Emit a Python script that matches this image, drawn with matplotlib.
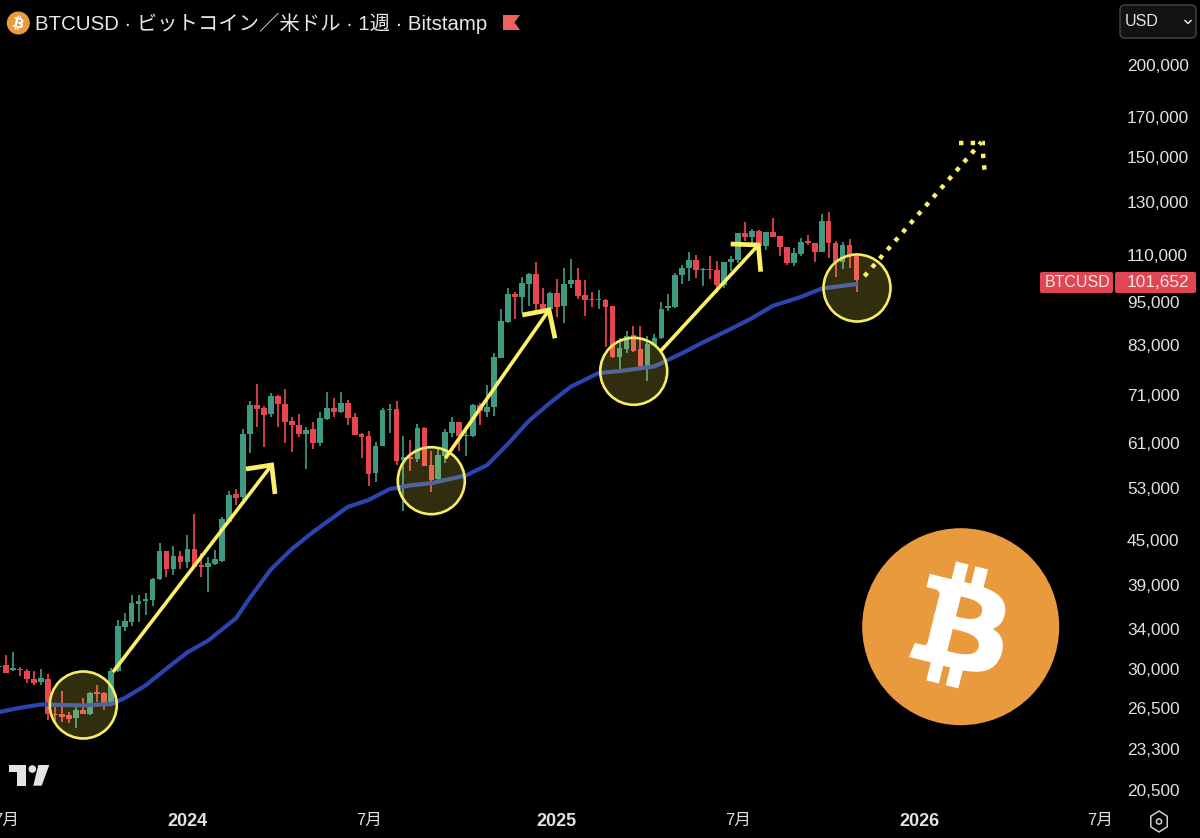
import re
import numpy as np
import pandas as pd
import matplotlib
matplotlib.use("Agg")
import matplotlib.pyplot as plt
import matplotlib.dates as mdates
from matplotlib.patches import Circle, PathPatch, Polygon, FancyBboxPatch
from matplotlib.path import Path

# Weekly BTCUSD candles in thousands of USD, first bar is the week of 2023-06-26
opens = [30.22, 30.41, 29.94, 30.03, 29.85, 29.1, 28.82, 29.1, 26.0, 26.0,
         25.92, 25.68, 26.4, 26.0, 27.9, 27.8, 26.95, 29.8, 34.23, 34.78,
         36.74, 37.08, 37.2, 39.82, 43.46, 41.03, 42.77, 41.94, 43.74, 41.55,
         41.29, 41.68, 42.07, 47.6, 51.97, 51.48, 62.7, 68.75, 68.13, 66.86,
         70.7, 68.95, 65.4, 64.57, 62.7, 63.7, 61.0, 65.8, 68.13, 67.27,
         69.16, 66.22, 62.7, 62.4, 55.47, 60.45, 67.7, 67.9, 57.8, 58.34,
         58.0, 63.9, 56.9, 54.47, 58.55, 62.9, 65.2, 62.4, 62.4, 68.75,
         67.27, 68.34, 79.7, 89.24, 97.45, 96.5, 100.5, 103.8, 94.4, 93.0,
         97.8, 93.87, 100.5, 101.8, 97.13, 95.9, 95.6, 95.6, 93.87, 79.95,
         81.96, 85.63, 81.96, 77.66, 83.0, 84.83, 93.28, 93.57, 103.45, 105.8,
         108.4, 105.1, 105.44, 105.1, 100.17, 107.7, 108.4, 118.0, 116.6, 118.73,
         113.4, 118.4, 116.9, 113.0, 107.4, 110.5, 115.15, 114.43, 111.2, 122.5,
         114.43, 107.7, 113.7, 109.8]
highs = [30.41, 31.3, 31.6, 30.22, 30.03, 29.85, 30.03, 29.53, 26.65, 28.0,
         26.23, 26.73, 27.37, 27.9, 28.48, 27.9, 30.13, 35.0, 35.76, 37.8,
         37.8, 38.04, 39.95, 44.58, 43.46, 44.15, 43.46, 45.7, 48.8, 43.19,
         42.6, 43.6, 48.35, 52.44, 52.77, 63.7, 69.6, 73.45, 68.55, 71.42,
         70.97, 72.33, 66.22, 66.86, 64.1, 65.2, 67.27, 71.65, 70.25, 71.65,
         69.8, 67.06, 62.9, 63.3, 61.2, 68.13, 68.95, 69.6, 62.3, 61.6,
         64.78, 64.1, 59.5, 60.26, 63.7, 66.22, 65.2, 63.5, 68.95, 69.16,
         73.2, 80.9, 92.98, 99.3, 98.1, 102.8, 104.1, 107.7, 99.3, 98.1,
         102.1, 105.8, 108.8, 105.8, 101.8, 98.1, 98.7, 95.9, 93.87, 84.83,
         86.73, 88.1, 88.1, 85.37, 85.9, 95.0, 97.45, 104.1, 106.76, 111.2,
         110.14, 105.8, 109.8, 108.06, 107.7, 109.8, 118.0, 122.1, 119.5, 119.1,
         118.4, 123.7, 116.9, 113.0, 112.6, 116.2, 117.3, 114.43, 125.3, 126.1,
         115.15, 114.8, 115.9, 109.8]
lows = [30.13, 29.62, 29.8, 29.35, 28.73, 28.48, 28.56, 25.52, 25.36, 25.36,
        25.28, 24.88, 26.0, 25.92, 27.03, 26.4, 26.86, 29.71, 33.8, 34.34,
        34.78, 35.54, 36.5, 39.7, 40.07, 40.32, 41.03, 41.16, 41.29, 40.07,
        38.16, 41.55, 41.94, 47.45, 50.2, 50.68, 59.14, 64.1, 60.26, 66.22,
        64.1, 61.0, 59.33, 62.16, 56.18, 59.88, 60.45, 65.6, 66.22, 67.06,
        64.57, 62.5, 58.16, 53.26, 54.0, 60.45, 62.9, 56.9, 49.25, 55.8,
        57.45, 56.75, 52.27, 54.3, 57.26, 62.16, 59.5, 58.55, 62.16, 64.57,
        66.22, 66.43, 79.7, 88.95, 90.1, 91.85, 93.87, 91.85, 91.85, 92.7,
        90.64, 88.95, 99.3, 95.9, 90.93, 93.57, 93.0, 82.5, 79.7, 76.2,
        80.9, 81.2, 76.94, 74.15, 82.74, 84.56, 92.4, 93.28, 100.5, 101.5,
        102.44, 99.96, 102.1, 97.8, 99.3, 104.77, 107.4, 115.15, 114.43, 111.2,
        111.9, 116.6, 109.8, 106.76, 106.43, 109.8, 113.7, 107.7, 111.2, 109.1,
        102.8, 105.44, 105.8, 98.1]
closes = [30.32, 29.62, 30.13, 29.94, 29.1, 28.73, 29.17, 26.07, 25.92, 25.83,
          25.6, 26.4, 26.07, 27.8, 27.72, 26.95, 29.8, 34.34, 34.89, 36.85,
          37.08, 37.32, 39.82, 43.46, 41.03, 42.77, 41.94, 43.74, 41.29, 41.29,
          41.81, 42.37, 48.05, 51.8, 51.32, 62.7, 68.75, 67.9, 66.65, 70.7,
          68.95, 65.2, 64.57, 62.7, 63.5, 61.0, 66.0, 68.13, 67.27, 69.16,
          66.0, 62.5, 62.16, 55.3, 60.45, 67.7, 67.9, 57.6, 58.34, 58.0,
          63.9, 56.75, 54.3, 58.76, 63.1, 65.2, 62.4, 62.5, 68.75, 67.48,
          68.34, 79.95, 89.5, 97.45, 96.5, 100.86, 103.8, 94.4, 93.0, 97.8,
          93.57, 100.5, 101.8, 96.8, 95.6, 95.6, 95.9, 93.57, 79.95, 82.2,
          85.37, 81.44, 77.66, 83.25, 84.83, 92.98, 93.87, 103.45, 105.8, 108.4,
          105.1, 105.44, 105.1, 100.17, 107.7, 108.75, 118.0, 116.6, 118.73, 113.4,
          118.4, 116.6, 113.0, 107.4, 110.85, 114.8, 114.43, 111.2, 122.5, 114.43,
          107.7, 113.7, 109.8, 101.65]

# moving average read at some of the bars (index into the weekly bars)
ma_bars = [0, 3, 6, 12, 16, 18, 21, 24, 27, 30, 34, 36, 39, 42, 45, 48, 50, 53, 56,
           59, 62, 67, 70, 73, 76, 79, 82, 86, 89, 94, 98, 101, 105, 108, 111, 115, 118, 123]
ma_values = [26.2, 26.55, 26.83, 26.75, 26.86, 27.37, 28.48, 30.03, 31.6, 32.8, 35.2, 37.55,
             41.03, 43.74, 46.1, 48.35, 49.9, 51.0, 52.77, 53.4, 53.77, 55.1, 56.9, 60.85,
             65.4, 69.16, 72.8, 76.0, 76.45, 77.6, 80.9, 83.7, 87.3, 90.3, 93.87, 96.5, 99.1, 100.5]

y_ticks = [200000, 170000, 150000, 130000, 110000, 95000, 83000, 71000, 61000,
           53000, 45000, 39000, 34000, 30000, 26500, 23300, 20500]
x_tick_dates = ["2023-07-03", "2024-01-01", "2024-07-01", "2025-01-06",
                "2025-07-07", "2026-01-05", "2026-07-06"]
x_tick_labels = ["7月", "2024", "7月", "2025", "7月", "2026", "7月"]

GREEN = "#3f9a82"
RED = "#e8464f"
YELLOW = "#fdf066"
BLUE = "#2a45ae"
TEXT = "#e2e2e2"
ORANGE = "#e99a3d"

# official bitcoin mark, 64x64 box
LOGO = ("M46.103,27.444 c0.637-4.258-2.605-6.547-7.038-8.074 l1.438-5.768 -3.511-0.875 -1.4,5.616 "
        "c-0.923-0.23-1.871-0.447-2.813-0.662 l1.41-5.653 -3.509-0.875 -1.439,5.766 "
        "c-0.764-0.174-1.514-0.346-2.242-0.527 l0.004-0.018 -4.842-1.209 -0.934,3.75 "
        "c0,0,2.605,0.597,2.55,0.634 c1.422,0.355,1.679,1.296,1.636,2.042 l-1.638,6.571 "
        "c0.098,0.025,0.225,0.061,0.365,0.117 c-0.117-0.029-0.242-0.061-0.371-0.092 l-2.296,9.205 "
        "c-0.174,0.432-0.615,1.08-1.609,0.834 c0.035,0.051-2.552-0.637-2.552-0.637 l-1.743,4.019 4.569,1.139 "
        "c0.85,0.213,1.683,0.436,2.503,0.646 l-1.453,5.834 3.507,0.875 1.439-5.772 "
        "c0.958,0.26,1.888,0.5,2.798,0.726 l-1.434,5.745 3.511,0.875 1.453-5.823 "
        "c5.987,1.133,10.489,0.676,12.384-4.739 c1.527-4.36-0.076-6.875-3.226-8.515 "
        "c2.294-0.529,4.022-2.038,4.483-5.155 z "
        "M38.08,38.69 c-1.085,4.36-8.426,2.003-10.806,1.412 l1.928-7.729 c2.38,0.593,10.012,1.767,8.878,6.317 z "
        "M39.166,27.381 c-0.99,3.966-7.1,1.951-9.082,1.457 l1.748-7.01 c1.982,0.494,8.365,1.416,7.334,5.553 z")


def logo_path(cx, cy, r):
    # small reader for the M / l / c / z commands used above
    tokens = re.findall(r"[a-zA-Z]|-?\d*\.?\d+", LOGO)
    verts, codes = [], []
    pos = np.zeros(2)
    start = pos
    i = 0
    cmd = None
    while i < len(tokens):
        if tokens[i].isalpha():
            cmd = tokens[i]
            i += 1
            if cmd == "z":
                verts.append(start)
                codes.append(Path.CLOSEPOLY)
            continue
        if cmd == "M":
            pos = np.array([float(tokens[i]), float(tokens[i + 1])])
            start = pos
            verts.append(pos)
            codes.append(Path.MOVETO)
            i += 2
        elif cmd == "l":
            pos = pos + np.array([float(tokens[i]), float(tokens[i + 1])])
            verts.append(pos)
            codes.append(Path.LINETO)
            i += 2
        elif cmd == "c":
            vals = np.array([float(t) for t in tokens[i:i + 6]]).reshape(3, 2)
            for v in vals:
                verts.append(pos + v)
                codes.append(Path.CURVE4)
            pos = pos + vals[2]
            i += 6
    verts = (np.array(verts) - 32) * r / 32 + np.array([cx, cy])
    return Path(verts, codes)


plt.rcParams["font.family"] = ["Liberation Sans", "Noto Sans CJK JP", "DejaVu Sans"]

fig = plt.figure(figsize=(12, 8.38), dpi=100, facecolor="black")
ax = fig.add_axes([0, 33 / 838, 1120 / 1200, 805 / 838], facecolor="black")

dates = pd.date_range("2023-06-26", periods=len(closes), freq="7D")
x = mdates.date2num(dates)
opens_usd = np.array(opens) * 1000
closes_usd = np.array(closes) * 1000
highs_usd = np.array(highs) * 1000
lows_usd = np.array(lows) * 1000
colors = [GREEN if c >= o else RED for o, c in zip(opens_usd, closes_usd)]

ax.vlines(x, lows_usd, highs_usd, colors=colors, linewidth=1.25, zorder=2)
ax.bar(x, np.abs(closes_usd - opens_usd), bottom=np.minimum(opens_usd, closes_usd),
       width=5.7, color=colors, linewidth=0, zorder=3)
ax.plot(x[ma_bars], np.array(ma_values) * 1000, color=BLUE, linewidth=3.0,
        solid_capstyle="round", solid_joinstyle="round", zorder=4)

ax.set_yscale("log")
ax.set_ylim(19564, 245300)
px_per_day = 6.97 / 7
left = mdates.date2num(pd.Timestamp("2023-08-14")) - 48 / px_per_day
ax.set_xlim(left, left + 1120 / px_per_day)

ax.yaxis.tick_right()
ax.set_yticks(y_ticks, [f"{v:,}" for v in y_ticks])
ax.minorticks_off()
ax.tick_params(axis="y", length=0, pad=5, labelsize=12.4, labelcolor=TEXT)
ax.set_xticks(mdates.date2num(pd.to_datetime(x_tick_dates)), x_tick_labels)
ax.tick_params(axis="x", length=0, pad=6, labelsize=12, labelcolor=TEXT)
for lab, txt in zip(ax.get_xticklabels(), x_tick_labels):
    if txt != "7月":
        lab.set_fontweight("bold")
        lab.set_fontsize(13)
for s in ax.spines.values():
    s.set_visible(False)

# everything drawn by hand on the chart goes on a layer in image pixels
top = fig.add_axes([0, 0, 1, 1], facecolor="none")
top.set_xlim(0, 1200)
top.set_ylim(838, 0)
top.axis("off")

for cx, cy in [(83.3, 705), (431.3, 480.7), (633.7, 371.3), (857, 288)]:
    top.add_patch(Circle((cx, cy), 33.5, facecolor="#f7e94f", alpha=0.2, edgecolor="none", zorder=5))
    top.add_patch(Circle((cx, cy), 33.5, facecolor="none", edgecolor="#f8ec66", linewidth=1.9, zorder=6))

arrows = [
    ((113, 672), (271.7, 465), (246, 469), (275, 494)),
    ((445.3, 458.3), (549, 310), (522.3, 315), (555, 338.3)),
    ((660, 351.7), (758.3, 245), (730.7, 244), (760.7, 271.7)),
]
for start_pt, tip, barb1, barb2 in arrows:
    top.plot([start_pt[0], tip[0]], [start_pt[1], tip[1]], color=YELLOW, linewidth=2.6,
             solid_capstyle="butt", zorder=7)
    top.plot([barb1[0], tip[0], barb2[0]], [barb1[1], tip[1], barb2[1]], color=YELLOW, linewidth=3.4,
             solid_capstyle="butt", solid_joinstyle="miter", zorder=7)

dots = dict(color=YELLOW, linewidth=3.2, dashes=(1, 1.62), dash_capstyle="butt", zorder=7)
top.plot([864.4, 981.5], [276.2, 142], **dots)
top.plot([959, 985], [143, 143], **dots)
top.plot([983, 984.5], [153.7, 170], **dots)

# big coin
top.add_patch(Circle((960.7, 626.7), 98.5, facecolor=ORANGE, edgecolor="none", zorder=8))
top.add_patch(PathPatch(logo_path(960.7, 626.7, 98.5), facecolor="white", edgecolor="white",
                        linewidth=1.3, zorder=9))

# header
top.add_patch(Circle((18.3, 23), 11.5, facecolor=ORANGE, edgecolor="none", zorder=8))
top.add_patch(PathPatch(logo_path(18.3, 23, 11.5), facecolor="white", edgecolor="none", zorder=9))
top.text(35, 23, "BTCUSD · ビットコイン／米ドル · 1週 · Bitstamp", color="#e8e8e8", fontsize=14.65,
         va="center", ha="left", zorder=9)
top.add_patch(Polygon([(503, 15), (520, 15), (514.5, 22.5), (520, 30), (503, 30)], facecolor="#f0605f",
                      edgecolor="none", zorder=9))

# currency button
top.add_patch(FancyBboxPatch((1122, 7), 72, 29, boxstyle="round,pad=2,rounding_size=5",
                             facecolor="#121212", edgecolor="#3d3d3d", linewidth=1.2, zorder=8))
top.text(1125, 22, "USD", color=TEXT, fontsize=11.5, va="center", ha="left", zorder=9)
top.plot([1185, 1188, 1191], [20.5, 23.5, 20.5], color=TEXT, linewidth=1.1, zorder=9)

# last price tag
top.add_patch(FancyBboxPatch((1041, 273), 71, 19, boxstyle="round,pad=1,rounding_size=2",
                             facecolor="#e04653", edgecolor="none", zorder=8))
top.add_patch(FancyBboxPatch((1116, 273), 79, 19, boxstyle="round,pad=1,rounding_size=2",
                             facecolor="#e04653", edgecolor="none", zorder=8))
top.text(1045, 282.5, "BTCUSD", color="#fbe3e5", fontsize=11.5, va="center", ha="left", zorder=9)
top.text(1127, 282.5, "101,652", color="#fbe3e5", fontsize=12.4, va="center", ha="left", zorder=9)

# TradingView mark
mark = "#e4e4e4"
top.add_patch(Polygon([(9.3, 765), (25.7, 765), (25.7, 785.7), (16.7, 785.7), (16.7, 771.5), (9.3, 771.5)],
                      facecolor=mark, edgecolor="none", zorder=9))
top.add_patch(Circle((32.3, 769), 3.8, facecolor=mark, edgecolor="none", zorder=9))
top.add_patch(Polygon([(38.3, 765), (49.3, 765), (41.7, 785.7), (33.3, 785.7)], facecolor=mark,
                      edgecolor="none", zorder=9))

# settings icon
angles = np.deg2rad(np.arange(0, 360, 60) + 90)
top.add_patch(Polygon(np.column_stack([1159 + 9.5 * np.cos(angles), 821.5 + 10.5 * np.sin(angles)]),
                      facecolor="none", edgecolor="#cfcfcf", linewidth=1.1, zorder=9))
top.add_patch(Circle((1159, 821.5), 2.6, facecolor="none", edgecolor="#cfcfcf", linewidth=1.1, zorder=9))

fig.savefig("out.png", dpi=100, facecolor="black")
